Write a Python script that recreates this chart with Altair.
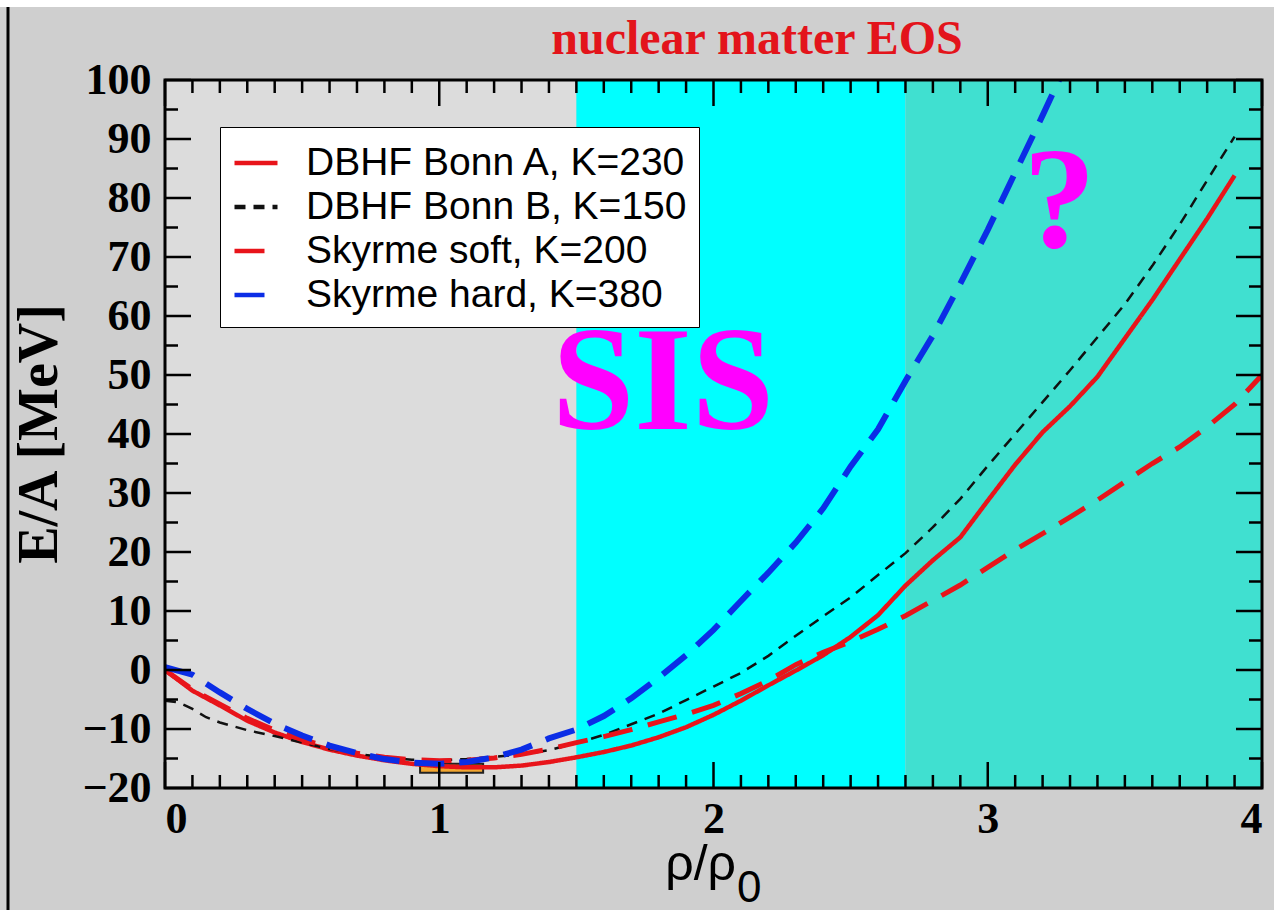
import altair as alt
import pandas as pd

W, H = 1097, 708

series_names = ["DBHF Bonn A, K=230", "DBHF Bonn B, K=150",
                "Skyrme soft, K=200", "Skyrme hard, K=380"]
series_colors = ["#e8141a", "#111111", "#e8141a", "#0b2de6"]
series_dash = [[1, 0], [11, 8], [30, 16], [30, 15]]
series_width = [4.5, 2.5, 5, 6]

rho_bonnA = [0.0, 0.1, 0.2, 0.3, 0.4, 0.5, 0.6, 0.7, 0.8, 0.9,
             1.0, 1.1, 1.2, 1.3, 1.4, 1.5, 1.6, 1.7, 1.8, 1.9,
             2.0, 2.1, 2.2, 2.3, 2.4, 2.5, 2.6, 2.7, 2.8, 2.9,
             3.0, 3.1, 3.2, 3.3, 3.4, 3.5, 3.6, 3.7, 3.8, 3.9]
e_bonnA = [0.0, -3.5, -6.0, -8.6, -10.6, -12.2, -13.5, -14.5, -15.3, -15.9,
           -16.3, -16.5, -16.5, -16.2, -15.6, -14.8, -13.9, -12.8, -11.4, -9.7,
           -7.6, -5.2, -2.6, -0.1, 2.5, 5.6, 9.3, 14.3, 18.6, 22.5,
           28.7, 34.8, 40.3, 44.7, 49.7, 56.2, 62.7, 69.6, 76.5, 83.8]

rho_bonnB = [0.0, 0.05, 0.1, 0.15, 0.2, 0.3, 0.4, 0.5, 0.6, 0.7, 0.8, 0.9,
             1.0, 1.1, 1.2, 1.3, 1.4, 1.5, 1.6, 1.7, 1.8, 1.9,
             2.0, 2.1, 2.2, 2.3, 2.4, 2.5, 2.6, 2.7, 2.8, 2.9,
             3.0, 3.1, 3.2, 3.3, 3.4, 3.5, 3.6, 3.7, 3.8, 3.9]
e_bonnB = [-5.2, -5.5, -6.6, -8.0, -8.9, -10.2, -11.2, -12.3, -13.4, -14.2, -14.8, -15.2,
           -15.3, -15.1, -14.7, -14.3, -13.6, -12.4, -11.0, -9.2, -7.4, -5.1,
           -2.8, -0.5, 2.4, 5.8, 9.1, 12.3, 16.1, 19.8, 24.2, 29.0,
           34.6, 40.0, 45.4, 50.8, 56.4, 62.0, 68.5, 75.5, 83.0, 90.4]

rho_soft = [0.0, 0.1, 0.2, 0.3, 0.4, 0.5, 0.6, 0.7, 0.8, 0.9,
            1.0, 1.1, 1.2, 1.3, 1.4, 1.5, 1.6, 1.7, 1.8, 1.9,
            2.0, 2.1, 2.2, 2.3, 2.4, 2.5, 2.6, 2.7, 2.8, 2.9,
            3.0, 3.1, 3.2, 3.3, 3.4, 3.5, 3.6, 3.7, 3.8, 3.9, 4.0]
e_soft = [0.0, -3.3, -5.8, -8.2, -10.2, -11.8, -13.1, -14.1, -14.8, -15.2,
          -15.4, -15.3, -14.9, -14.3, -13.4, -12.3, -11.3, -10.1, -8.8, -7.5,
          -6.0, -4.0, -1.8, 0.9, 3.0, 4.8, 6.9, 9.2, 11.8, 14.4,
          17.4, 20.4, 23.1, 25.9, 28.8, 31.9, 35.0, 37.8, 41.2, 45.0, 50.0]

rho_hard = [0.0, 0.1, 0.2, 0.3, 0.4, 0.5, 0.6, 0.7, 0.8, 0.9,
            1.0, 1.1, 1.2, 1.3, 1.4, 1.5, 1.6, 1.7, 1.8, 1.9,
            2.0, 2.1, 2.2, 2.3, 2.4, 2.5, 2.6, 2.7, 2.8, 2.9,
            3.0, 3.1, 3.2, 3.3]
e_hard = [0.5, -0.8, -3.8, -6.6, -9.1, -11.1, -12.8, -14.1, -15.1, -15.7,
          -15.9, -15.6, -14.8, -13.5, -11.6, -10.1, -7.8, -4.8, -1.3, 2.5,
          6.8, 11.7, 16.5, 21.6, 27.4, 34.5, 40.8, 49.0, 56.7, 65.5,
          74.6, 84.3, 94.0, 104.0]

region_start = [0.0, 1.5, 2.7]
region_end = [1.5, 2.7, 4.0]
region_color = ["#dcdcdc", "#00ffff", "#40e0d0"]

# empirical saturation box
box_rho = [0.93, 1.16]
box_e = [-15.9, -17.4]

annot_text = ["SIS", "?"]
annot_rho = [1.816, 3.262]
annot_e = [40.8, 71.7]
annot_size = [148, 145]

x_major = [0, 1, 2, 3, 4]
x_minor = [i / 10 for i in range(1, 40) if i % 10 != 0]
y_major = [-20, -10, 0, 10, 20, 30, 40, 50, 60, 70, 80, 90, 100]
y_minor = [-15, -5, 5, 15, 25, 35, 45, 55, 65, 75, 85, 95]

title_text = "nuclear matter EOS"
ytitle_text = "E/A [MeV]"
xtitle_main = "ρ/ρ"
xtitle_sub = "0"

rows = []
for name, rr, ee, sw in zip(series_names,
                            [rho_bonnA, rho_bonnB, rho_soft, rho_hard],
                            [e_bonnA, e_bonnB, e_soft, e_hard],
                            series_width):
    for i, (r, e) in enumerate(zip(rr, ee)):
        rows.append({"series": name, "rho": r, "E": e, "i": i, "sw": sw})
curves = pd.DataFrame(rows)

xs = alt.Scale(domain=[0, 4], nice=False, zero=False)
ys = alt.Scale(domain=[-20, 100], nice=False, zero=False)

SERIF = "Liberation Serif"
SANS = "Liberation Sans"

bg = alt.Chart(pd.DataFrame({"x0": region_start, "x1": region_end, "c": region_color})).mark_rect().encode(
    x=alt.X("x0:Q", scale=xs, axis=alt.Axis(values=x_major, format="d", labelFont=SERIF,
                                              labelFontWeight="bold", labelFontSize=44,
                                              labelColor="black", labelPadding=9,
                                              ticks=False, domain=False, grid=False, title=None)),
    x2="x1:Q",
    y=alt.value(0), y2=alt.value(H),
    fill=alt.Fill("c:N", scale=None),
)

yaxis_holder = alt.Chart(pd.DataFrame({"v": y_major})).mark_point(opacity=0).encode(
    y=alt.Y("v:Q", scale=ys, axis=alt.Axis(values=y_major, format="d", labelFont=SERIF,
                                           labelFontWeight="bold", labelFontSize=44,
                                           labelColor="black", labelPadding=14,
                                           ticks=False, domain=False, grid=False, title=None)),
    x=alt.value(0),
)

box = alt.Chart(pd.DataFrame({"r0": [box_rho[0]], "r1": [box_rho[1]],
                              "e0": [box_e[0]], "e1": [box_e[1]]})).mark_rect(
    fill="#f2a630", stroke="#222222", strokeWidth=2).encode(
    x=alt.X("r0:Q", scale=xs), x2="r1:Q",
    y=alt.Y("e0:Q", scale=ys), y2="e1:Q")

legend_opts = dict(title=None, orient="none", legendX=55, legendY=47,
                   fillColor="white", strokeColor="black",
                   padding=12, symbolType="stroke", symbolSize=1850,
                   symbolStrokeWidth=4.5,
                   labelFont=SANS, labelFontSize=39, labelColor="black",
                   labelOffset=26, rowPadding=0, labelLimit=600)

lines = alt.Chart(curves).mark_line(clip=True, strokeCap="butt").encode(
    x=alt.X("rho:Q", scale=xs),
    y=alt.Y("E:Q", scale=ys),
    order="i:Q",
    color=alt.Color("series:N", sort=series_names,
                    scale=alt.Scale(domain=series_names, range=series_colors),
                    legend=alt.Legend(**legend_opts)),
    strokeDash=alt.StrokeDash("series:N", sort=series_names,
                              scale=alt.Scale(domain=series_names, range=series_dash),
                              legend=alt.Legend(**legend_opts)),
    strokeWidth=alt.StrokeWidth("sw:Q", scale=None),
    detail="series:N",
)

annots = alt.Chart(pd.DataFrame({"t": annot_text, "rho": annot_rho, "E": annot_e,
                                 "s": annot_size})).mark_text(
    font=SERIF, fontWeight="bold", color="#ff00ff", align="center", baseline="alphabetic").encode(
    x=alt.X("rho:Q", scale=xs), y=alt.Y("E:Q", scale=ys),
    text="t:N", size=alt.Size("s:Q", scale=None))


def ticks(vals, orient, length):
    d = pd.DataFrame({"v": vals})
    c = alt.Chart(d).mark_rule(color="black", strokeWidth=2.5)
    if orient == "bottom":
        return c.encode(x=alt.X("v:Q", scale=xs), y=alt.value(H), y2=alt.value(H - length))
    if orient == "top":
        return c.encode(x=alt.X("v:Q", scale=xs), y=alt.value(0), y2=alt.value(length))
    if orient == "left":
        return c.encode(y=alt.Y("v:Q", scale=ys), x=alt.value(0), x2=alt.value(length))
    return c.encode(y=alt.Y("v:Q", scale=ys), x=alt.value(W), x2=alt.value(W - length))


tick_layers = [
    ticks(x_major, "bottom", 26), ticks(x_minor, "bottom", 13),
    ticks(x_major, "top", 26), ticks(x_minor, "top", 13),
    ticks(y_major, "left", 26), ticks(y_minor, "left", 13),
    ticks(y_major, "right", 26), ticks(y_minor, "right", 13),
]

frame = alt.Chart(pd.DataFrame({"a": [0]})).mark_rect(
    filled=False, stroke="black", strokeWidth=3).encode(
    x=alt.value(0), x2=alt.value(W), y=alt.value(0), y2=alt.value(H))

title = alt.Chart(pd.DataFrame({"t": [title_text]})).mark_text(
    font=SERIF, fontWeight="bold", fontSize=48, color="#e3141b",
    align="center", baseline="alphabetic").encode(
    x=alt.value(592), y=alt.value(-26), text="t:N")

ytitle = alt.Chart(pd.DataFrame({"t": [ytitle_text]})).mark_text(
    font=SERIF, fontWeight="bold", fontSize=56, color="black", angle=270,
    align="center", baseline="middle").encode(
    x=alt.value(-125), y=alt.value(H / 2), text="t:N")

xtitle1 = alt.Chart(pd.DataFrame({"t": [xtitle_main]})).mark_text(
    font=SANS, fontSize=50, color="black", align="right", baseline="alphabetic").encode(
    x=alt.value(571), y=alt.value(800), text="t:N")
xtitle2 = alt.Chart(pd.DataFrame({"t": [xtitle_sub]})).mark_text(
    font=SANS, fontSize=44, color="black", align="left", baseline="alphabetic").encode(
    x=alt.value(572), y=alt.value(822), text="t:N")

edge = alt.Chart(pd.DataFrame({"a": [0]})).mark_rule(color="black", strokeWidth=3).encode(
    x=alt.value(-157), y=alt.value(-73), y2=alt.value(H + 122))
topstrip = alt.Chart(pd.DataFrame({"a": [0]})).mark_rect(color="white").encode(
    x=alt.value(-165), x2=alt.value(W + 12), y=alt.value(-80), y2=alt.value(-73))

chart = alt.layer(
    bg, yaxis_holder, box, lines, annots, *tick_layers, frame,
    title, ytitle, xtitle1, xtitle2, edge, topstrip
).properties(
    width=W, height=H,
    padding={"left": 165, "top": 80, "right": 12, "bottom": 122},
    autosize=alt.AutoSizeParams(type="none"),
).configure(background="#cfcfcf").configure_view(strokeWidth=0)

chart.save("out.html", embed_options={"renderer": "svg", "actions": False})
